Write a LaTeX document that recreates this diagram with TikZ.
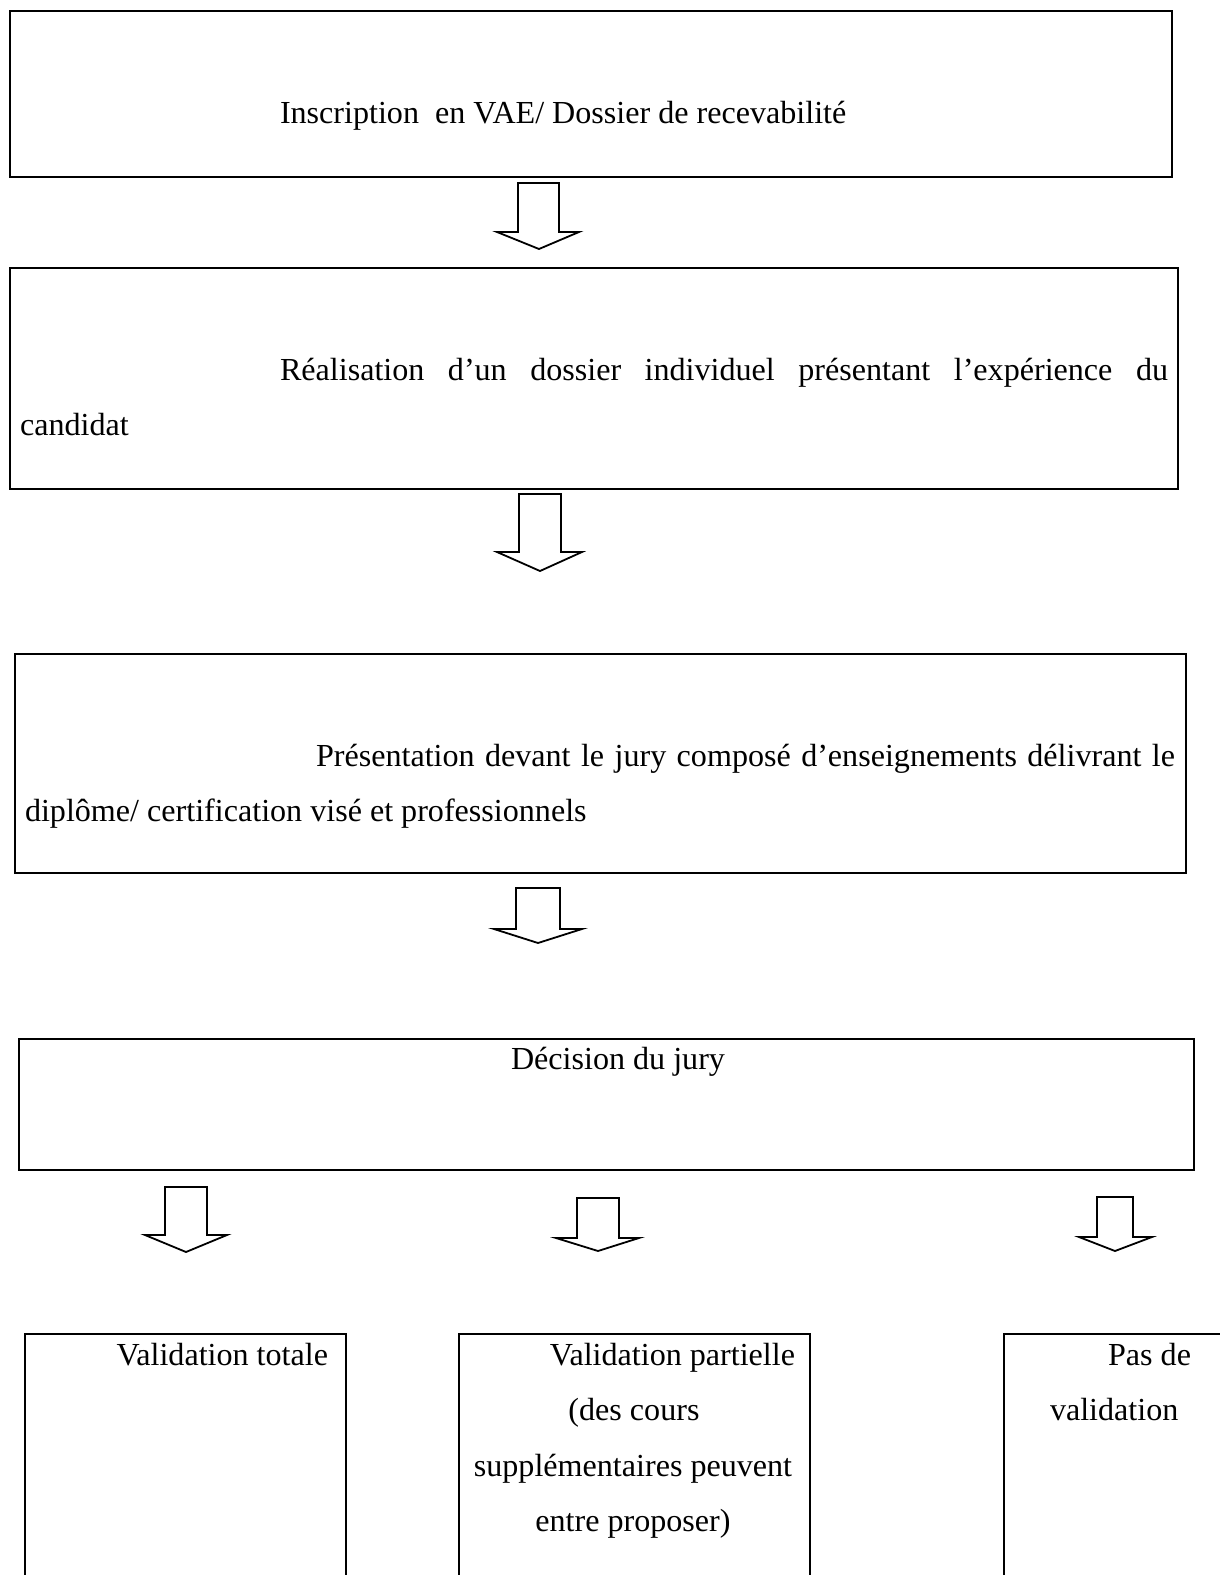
\documentclass[tikz,border=0pt]{standalone}
\usepackage{fontspec}
\setmainfont{Liberation Serif}
\begin{document}
\begin{tikzpicture}[x=1pt,y=-1pt,
  boxline/.style={draw=black,line width=2pt},
  arrowline/.style={draw=black,fill=white,line width=1.8pt,line join=miter},
  txt/.style={inner sep=0pt,outer sep=0pt,font=\fontsize{32.1}{38}\selectfont}]
\useasboundingbox[fill=white] (0,0) rectangle (1219,1575);
% boxes
\draw[boxline] (10,11) rectangle (1172,177);
\draw[boxline] (10,268) rectangle (1178,489);
\draw[boxline] (15,654) rectangle (1186,873);
\draw[boxline] (19,1039) rectangle (1194,1170);
\draw[boxline] (25,1580) -- (25,1334) -- (346,1334) -- (346,1580);
\draw[boxline] (459,1580) -- (459,1334) -- (810,1334) -- (810,1580);
\draw[boxline] (1004,1580) -- (1004,1334) -- (1225,1334);
% texts
\node[txt,anchor=base west] (t1) at (280,123) {Inscription\ \ en VAE/ Dossier de recevabilité};
\node[txt,anchor=base west] (t2a) at (280,380) {\makebox[888pt][s]{Réalisation d’un dossier individuel présentant l’expérience du}};
\node[txt,anchor=base west] (t2b) at (20,435) {candidat};
\node[txt,anchor=base west] (t3a) at (316,766) {\makebox[859pt][s]{Présentation devant le jury composé d’enseignements délivrant le}};
\node[txt,anchor=base west] (t3b) at (25,821) {diplôme/ certification visé et professionnels};
\node[txt,anchor=base] (t4) at (618,1069) {Décision du jury};
\node[txt,anchor=base east] (b1) at (328,1365) {Validation totale};
\node[txt,anchor=base east] (b2a) at (795,1365) {Validation partielle};
\node[txt,anchor=base] (b2b) at (634,1420) {(des cours};
\node[txt,anchor=base] (b2c) at (633,1476) {supplémentaires peuvent};
\node[txt,anchor=base] (b2d) at (633,1531) {entre proposer)};
\node[txt,anchor=base east] (b3a) at (1191,1365) {Pas de};
\node[txt,anchor=base west] (b3b) at (1050,1420) {validation};
% block arrows
\draw[arrowline] (518,183) -- (559,183) -- (559,232) -- (579,232) -- (539,249) -- (497,232) -- (518,232) -- cycle;
\draw[arrowline] (519,494) -- (561,494) -- (561,552) -- (582,552) -- (540,571) -- (497,552) -- (519,552) -- cycle;
\draw[arrowline] (516,888) -- (560,888) -- (560,929) -- (582,929) -- (538,943) -- (494,929) -- (516,929) -- cycle;
\draw[arrowline] (165,1187) -- (207,1187) -- (207,1235) -- (227,1235) -- (186,1252) -- (145,1235) -- (165,1235) -- cycle;
\draw[arrowline] (577,1198) -- (619,1198) -- (619,1238) -- (639,1238) -- (598,1251) -- (556,1238) -- (577,1238) -- cycle;
\draw[arrowline] (1097,1197) -- (1133,1197) -- (1133,1237) -- (1152,1237) -- (1115,1251) -- (1079,1237) -- (1097,1237) -- cycle;
\end{tikzpicture}
\end{document}
